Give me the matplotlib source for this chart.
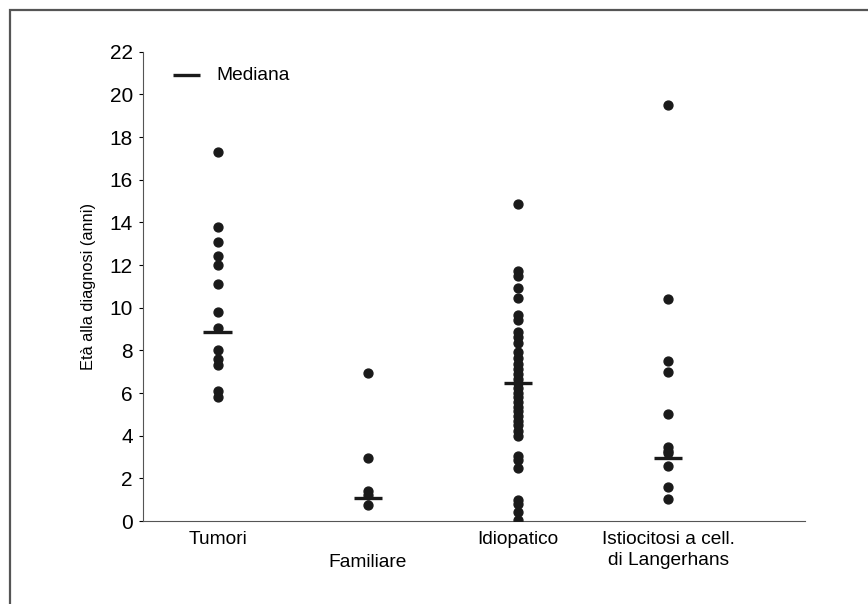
import numpy as np
import matplotlib.pyplot as plt
from matplotlib.patches import Rectangle

plt.rcParams["font.family"] = ["Liberation Sans", "DejaVu Sans"]

categories = ["Tumori", "Familiare", "Idiopatico", "Istiocitosi a cell.\ndi Langerhans"]
label_offsets = [-18, -41, -18, -29]  # pixels below the x axis

tumori = [17.3, 13.8, 13.1, 12.4, 12.0, 11.1, 9.8, 9.05, 8.0, 7.6, 7.3, 6.1, 5.8]
familiare = [6.95, 2.95, 1.4, 1.2, 0.75]
idiopatico = [14.85, 11.72, 11.5, 10.9, 10.44, 9.65, 9.42, 8.87, 8.62, 8.35, 7.94,
              7.63, 7.38, 7.12, 6.9, 6.68, 6.46, 6.24, 6.02, 5.8, 5.58, 5.36, 5.14,
              4.92, 4.7, 4.48, 4.24, 3.97, 3.05, 2.85, 2.47, 1.0, 0.82, 0.44, 0.05]
istiocitosi = [19.5, 10.39, 7.5, 7.0, 5.02, 3.48, 3.3, 3.18, 2.6, 1.61, 1.02]
series = [tumori, familiare, idiopatico, istiocitosi]

medians = [8.84, 1.09, 6.48, 2.97]


def main():
    fig = plt.figure(figsize=(8.68, 6.04), dpi=100)
    ax = fig.add_axes([0.1644, 0.1374, 0.7627, 0.777])

    # outer frame of the original figure, cut at the right and bottom edge
    fig.patches.append(Rectangle((10 / 868, -0.1), 1.2, 1.0 - 10 / 604 + 0.1,
                                 transform=fig.transFigure, fill=False,
                                 edgecolor="#555555", linewidth=1.6))

    for i, vals in enumerate(series):
        x = np.full(len(vals), i + 1)
        ax.plot(x, vals, "o", color="#1a1a1a", markersize=6.4, zorder=3)
        ax.plot([i + 1 - 0.095, i + 1 + 0.095], [medians[i], medians[i]],
                color="#1a1a1a", linewidth=2.4, solid_capstyle="butt", zorder=4)

    # legend drawn by hand like the original
    ax.plot([0.7, 0.885], [20.9, 20.9], color="#1a1a1a", linewidth=2.4,
            solid_capstyle="butt")
    ax.text(0.99, 20.9, "Mediana", fontsize=13.8, va="center", ha="left")

    ax.set_xlim(0.5, 4.91)
    ax.set_ylim(0, 22)
    ax.set_yticks(np.arange(0, 23, 2))
    ax.tick_params(axis="y", labelsize=15, length=3, width=0.8, direction="out",
                   pad=4)
    ax.set_xticks([])

    for i, lab in enumerate(categories):
        ax.annotate(lab, xy=(i + 1, 0), xycoords=("data", "axes fraction"),
                    xytext=(0, label_offsets[i]), textcoords="offset pixels",
                    ha="center", va="center", fontsize=13.8, linespacing=1.25)

    ax.spines["top"].set_visible(False)
    ax.spines["right"].set_visible(False)
    ax.spines["left"].set_color("#555555")
    ax.spines["bottom"].set_color("#555555")

    ax.set_ylabel("Età alla diagnosi (anni)", fontsize=11.8, labelpad=10)

    fig.savefig("out.png", dpi=100)


if __name__ == "__main__":
    main()
